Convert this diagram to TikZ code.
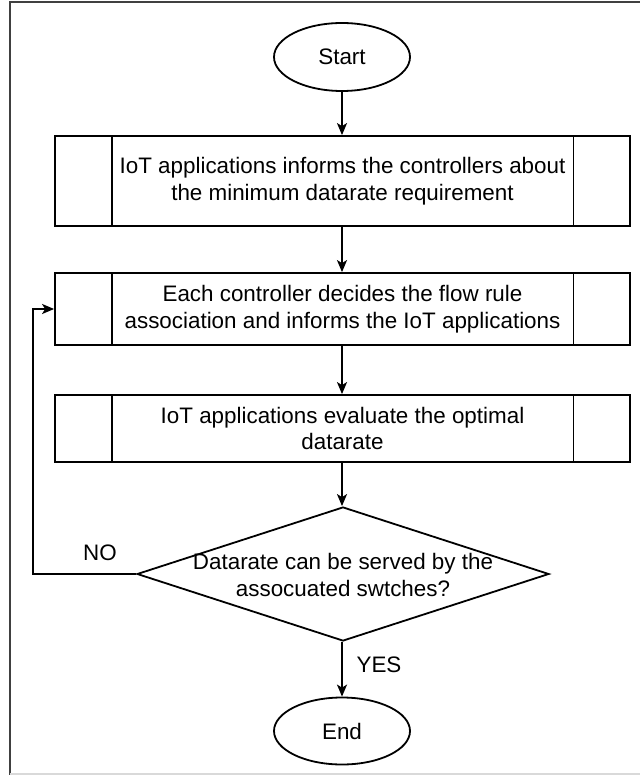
\documentclass[tikz,border=0pt]{standalone}
\usepackage{fontspec}
\setmainfont{Liberation Sans}
\usetikzlibrary{shapes.geometric,arrows.meta}
\begin{document}
\begin{tikzpicture}[x=1pt,y=-1pt,
  line width=1.8pt,
  font=\fontsize{22.4}{26.5}\selectfont,
  term/.style={draw,ellipse,minimum width=136pt,minimum height=68pt,inner sep=0pt},
  procbox/.style={draw,rectangle,minimum width=575pt,inner sep=0pt,align=center},
  arr/.style={-{Stealth[length=12pt,width=10pt,inset=3pt]}},
  lbl/.style={inner sep=0pt}]
\useasboundingbox (0,0) rectangle (640,775);
% frame
\draw[line width=2.2pt,black!75] (10,775) -- (10,2) -- (640,2);
\draw[line width=1.5pt,black!15] (10,774) -- (640,774);

\node[term] (start) at (342,57) {Start};
\node[procbox,minimum height=90pt] (p1) at (342.5,181) {IoT applications informs the controllers about\\the minimum datarate requirement};
\node[procbox,minimum height=72pt] (p2) at (342.5,309) {Each controller decides the flow rule\\association and informs the IoT applications};
\node[procbox,minimum height=67pt] (p3) at (342.5,428.5) {IoT applications evaluate the optimal\\datarate};
\foreach \n in {p1,p2,p3}{
  \draw ([xshift=57.5pt]\n.north west) -- ([xshift=57.5pt]\n.south west);
  \draw ([xshift=-57.5pt]\n.north east) -- ([xshift=-57.5pt]\n.south east);
}
\node[draw,diamond,minimum width=412pt,minimum height=134pt,inner sep=0pt] (d) at (343,574) {};
\node[lbl,align=center] (dt) at (343,575) {Datarate can be served by the\\assocuated swtches?};
\node[term,minimum height=67pt] (end) at (342,731) {End};

\coordinate (c1) at (33,574);
\coordinate (c2) at (33,309);

\draw[arr] (start) -- (start |- p1.north);
\draw[arr] (start |- p1.south) -- (start |- p2.north);
\draw[arr] (start |- p2.south) -- (start |- p3.north);
\draw[arr] (start |- p3.south) -- (start |- d.north);
\draw[arr] (start |- d.south) -- (end);
\draw[arr] (d.west) -- (c1) -- (c2) -- (p2.west);
\node[lbl] (no) at (100,553) {NO};
\node[lbl] (yes) at (379,665) {YES};
\end{tikzpicture}
\end{document}
